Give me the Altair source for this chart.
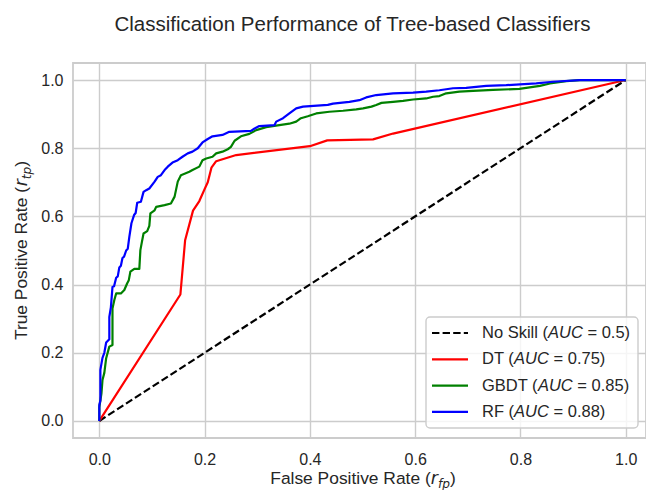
import altair as alt
import pandas as pd

TITLE = "Classification Performance of Tree-based Classifiers"
series_names = ["No Skill", "DT", "GBDT", "RF"]
series_auc = ["0.5", "0.75", "0.85", "0.88"]
series_colors = ["#000000", "#ff0000", "#008000", "#0000ff"]
tick_values = [0.0, 0.2, 0.4, 0.6, 0.8, 1.0]

noskill_fpr = [0.0, 1.0]
noskill_tpr = [0.0, 1.0]

dt_fpr = [0.0, 0.154, 0.163, 0.178, 0.19, 0.2, 0.206, 0.213, 0.222, 0.26, 0.40, 0.433, 0.52, 0.558, 1.0]
dt_tpr = [0.0, 0.371, 0.53, 0.617, 0.645, 0.68, 0.70, 0.743, 0.762, 0.78, 0.806, 0.823, 0.826, 0.843, 1.0]

gbdt_fpr = [0.0, 0.0, 0.004, 0.006, 0.0095, 0.013, 0.019, 0.025, 0.025, 0.0285, 0.032, 0.041, 0.0475,
            0.053, 0.056, 0.059, 0.0665, 0.076, 0.078, 0.081, 0.084, 0.091, 0.095, 0.097, 0.105, 0.108,
            0.124, 0.136, 0.143, 0.149, 0.155, 0.171, 0.177, 0.19, 0.196, 0.203, 0.215, 0.222, 0.234,
            0.244, 0.25, 0.257, 0.269, 0.285, 0.298, 0.317, 0.342, 0.361, 0.374, 0.383, 0.396, 0.412,
            0.437, 0.463, 0.488, 0.501, 0.517, 0.526, 0.536, 0.558, 0.577, 0.596, 0.621, 0.634, 0.646,
            0.659, 0.684, 0.71, 0.748, 0.798, 0.837, 0.856, 0.887, 0.913, 1.0]
gbdt_tpr = [0.0, 0.04, 0.08, 0.12, 0.141, 0.184, 0.218, 0.223, 0.33, 0.355, 0.374, 0.374, 0.384,
            0.404, 0.413, 0.438, 0.446, 0.446, 0.501, 0.526, 0.55, 0.557, 0.572, 0.609, 0.618, 0.628,
            0.633, 0.638, 0.658, 0.702, 0.721, 0.731, 0.736, 0.746, 0.765, 0.77, 0.775, 0.785, 0.79,
            0.797, 0.804, 0.822, 0.835, 0.842, 0.853, 0.862, 0.868, 0.872, 0.878, 0.888, 0.894, 0.902,
            0.907, 0.91, 0.914, 0.917, 0.922, 0.927, 0.933, 0.936, 0.939, 0.943, 0.946, 0.951, 0.953,
            0.961, 0.966, 0.968, 0.971, 0.974, 0.983, 0.99, 0.997, 1.0, 1.0]

rf_fpr = [0.0, 0.0, 0.002, 0.002, 0.006, 0.0095, 0.013, 0.019, 0.019, 0.022, 0.025, 0.028, 0.032,
          0.035, 0.038, 0.041, 0.044, 0.047, 0.051, 0.054, 0.057, 0.061, 0.066, 0.069, 0.072, 0.079,
          0.084, 0.089, 0.095, 0.105, 0.111, 0.117, 0.124, 0.13, 0.139, 0.149, 0.158, 0.168, 0.177,
          0.187, 0.196, 0.206, 0.215, 0.234, 0.247, 0.288, 0.295, 0.304, 0.333, 0.336, 0.349, 0.361,
          0.374, 0.387, 0.434, 0.444, 0.475, 0.494, 0.507, 0.526, 0.558, 0.596, 0.621, 0.646, 0.672,
          0.697, 0.735, 0.773, 0.830, 0.862, 0.913, 1.0]
rf_tpr = [0.0, 0.047, 0.06, 0.15, 0.185, 0.2, 0.23, 0.24, 0.305, 0.334, 0.393, 0.395, 0.42,
          0.424, 0.45, 0.455, 0.478, 0.482, 0.5, 0.505, 0.54, 0.58, 0.604, 0.61, 0.64, 0.643,
          0.672, 0.677, 0.682, 0.702, 0.716, 0.721, 0.736, 0.746, 0.758, 0.765, 0.775, 0.785, 0.79,
          0.8, 0.817, 0.827, 0.835, 0.839, 0.848, 0.851, 0.858, 0.865, 0.868, 0.878, 0.888, 0.902,
          0.917, 0.922, 0.927, 0.931, 0.936, 0.941, 0.949, 0.956, 0.961, 0.963, 0.966, 0.970, 0.976,
          0.977, 0.983, 0.985, 0.99, 0.995, 1.0, 1.0]

all_fpr = [noskill_fpr, dt_fpr, gbdt_fpr, rf_fpr]
all_tpr = [noskill_tpr, dt_tpr, gbdt_tpr, rf_tpr]

rows = []
for name, fx, ty in zip(series_names, all_fpr, all_tpr):
    for i, (a, b) in enumerate(zip(fx, ty)):
        rows.append({"series": name, "fpr": a, "tpr": b, "idx": i})
df = pd.DataFrame(rows)

# ---------- layout ----------
PX_PER_UNIT = 526.4
W, H = 573, 375
X_MIN = -0.05
X_MAX = X_MIN + W / PX_PER_UNIT
TXT = "#262626"
GRID = "#cccccc"
FONT = "Liberation Sans"
MATH = "DejaVu Sans"
LW = 2.2

ARIAL = {' ': 278, '(': 333, ')': 333, '.': 278, '=': 584, '-': 333,
         'A': 667, 'B': 667, 'C': 722, 'D': 722, 'F': 611, 'G': 778, 'K': 667, 'N': 722,
         'P': 667, 'R': 722, 'S': 667, 'T': 611, 'U': 722, 'a': 556, 'b': 556, 'c': 500,
         'd': 556, 'e': 556, 'f': 278, 'i': 222, 'k': 500, 'l': 222, 'm': 833, 'n': 556,
         'o': 556, 'p': 556, 'r': 333, 's': 500, 't': 278, 'u': 556, 'v': 500}
for d in "0123456789":
    ARIAL[d] = 556
DVO = {'r': 411, 'f': 352, 'p': 635, 't': 392}


def width(s, size, table=ARIAL):
    return sum(table.get(c, 556) for c in s) / 1000.0 * size


dummy = alt.Data(values=[{"k": 0}])

xscale = alt.Scale(domain=[X_MIN, X_MAX], nice=False, zero=False)
yscale = alt.Scale(domain=[-0.05, 1.05], nice=False, zero=False)
axis_common = dict(values=tick_values, format=".1f", title=None, grid=True, gridColor=GRID,
                   gridWidth=1.4, domain=False, ticks=True, tickSize=0, labelFontSize=16,
                   labelFont=FONT, labelColor=TXT, labelFlush=False)
xaxis = alt.Axis(labelPadding=13, **axis_common)
yaxis = alt.Axis(labelPadding=10, **axis_common)

layers = []
dashes = {"No Skill": [7.4, 3.2]}
for name, col in zip(series_names, series_colors):
    mk = dict(color=col, strokeWidth=LW, strokeJoin="round")
    if name in dashes:
        mk["strokeDash"] = dashes[name]
    layers.append(
        alt.Chart(df).transform_filter(alt.datum.series == name).mark_line(**mk).encode(
            x=alt.X("fpr:Q", scale=xscale, axis=xaxis),
            y=alt.Y("tpr:Q", scale=yscale, axis=yaxis),
            order=alt.Order("idx:Q"),
        )
    )

# ---------- legend ----------
LX0, LX1, LY0, LY1 = 353, 565, 254, 365
layers.append(
    alt.Chart(dummy).mark_rect(fill="white", fillOpacity=0.8, stroke=GRID, strokeWidth=1.4,
                               cornerRadius=4).encode(
        x=alt.value(LX0), x2=alt.value(LX1), y=alt.value(LY0), y2=alt.value(LY1))
)
LFS = 16.5
for i, (name, auc, col) in enumerate(zip(series_names, series_auc, series_colors)):
    yy = 270 + 26.3 * i
    rk = dict(color=col, strokeWidth=LW)
    if name in dashes:
        rk["strokeDash"] = dashes[name]
    layers.append(alt.Chart(dummy).mark_rule(**rk).encode(
        x=alt.value(359), x2=alt.value(395), y=alt.value(yy)))
    p1 = f"{name} ("
    p3 = f"= {auc})"
    x1 = 409
    x2 = x1 + width(p1, LFS)
    x3 = x2 + width("AUC", LFS) + width(" ", LFS)
    for txt, xx, style in [(p1, x1, "normal"), ("AUC", x2, "italic"), (p3, x3, "normal")]:
        layers.append(alt.Chart(dummy).mark_text(
            text=txt, align="left", baseline="middle", font=FONT, fontSize=LFS,
            fontStyle=style, color=TXT).encode(x=alt.value(xx), y=alt.value(yy)))

# ---------- axis titles (with italic subscripted symbols) ----------
AFS = 17.4
SFS = AFS * 0.7


def title_pieces(main, sym, sub):
    return [
        (main, FONT, "normal", AFS, 0, width(main, AFS)),
        (sym, MATH, "italic", AFS, 0, width(sym, AFS, DVO)),
        (sub, MATH, "italic", SFS, 4, width(sub, SFS, DVO)),
        (")", FONT, "normal", AFS, 0, width(")", AFS)),
    ]


xp = title_pieces("False Positive Rate (", "r", "fp")
tot = sum(p[5] for p in xp)
cx = 290 - tot / 2
for txt, fnt, style, fs, shift, wd in xp:
    layers.append(alt.Chart(dummy).mark_text(
        text=txt, align="left", baseline="alphabetic", font=fnt, fontSize=fs,
        fontStyle=style, color=TXT).encode(x=alt.value(cx), y=alt.value(421 + shift)))
    cx += wd

yp = title_pieces("True Positive Rate (", "r", "tp")
tot = sum(p[5] for p in yp)
cy = H / 2 + tot / 2
for txt, fnt, style, fs, shift, wd in yp:
    layers.append(alt.Chart(dummy).mark_text(
        text=txt, align="left", baseline="alphabetic", font=fnt, fontSize=fs, angle=270,
        fontStyle=style, color=TXT).encode(x=alt.value(-46 + shift), y=alt.value(cy)))
    cy -= wd

chart = alt.layer(*layers).properties(
    width=W, height=H,
    title=alt.Title(TITLE, fontSize=20.5, font=FONT, fontWeight="normal", color=TXT,
                    anchor="middle", dx=-7, offset=12, baseline="alphabetic"),
    autosize=alt.AutoSizeParams(type="none"),
    padding={"left": 65, "top": 55, "right": 0, "bottom": 60},
).configure_view(stroke=GRID, strokeWidth=1.8)

chart.save("out.html", embed_options={"renderer": "svg", "actions": False})
